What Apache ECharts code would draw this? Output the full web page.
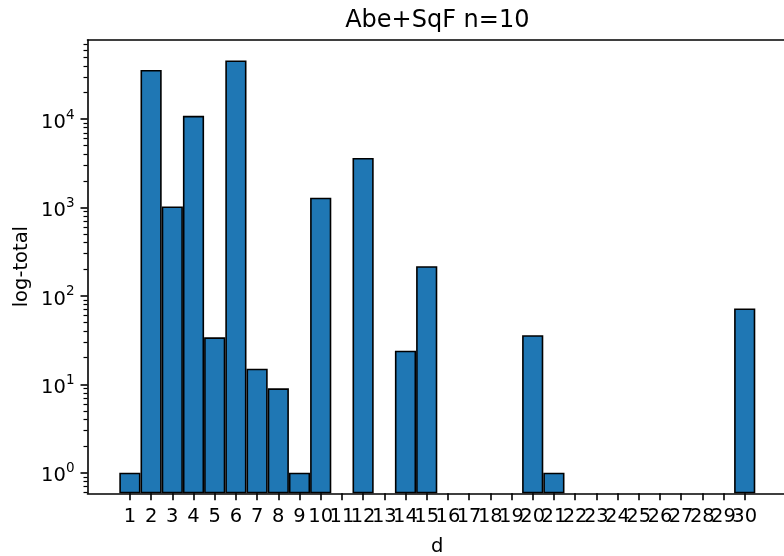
<!DOCTYPE html>
<html><head><meta charset="utf-8">
<script src="https://cdn.jsdelivr.net/npm/echarts@6/dist/echarts.min.js"></script>
<style>html,body{margin:0;padding:0;background:#fff}#c{width:784px;height:556px}</style>
</head><body><div id="c"></div>
<script>
const categories = [1,2,3,4,5,6,7,8,9,10,11,12,13,14,15,16,17,18,19,20,21,22,23,24,25,26,27,28,29,30];
const totals = [1, 36000, 1030, 10900, 34, 46000, 15, 9, 1, 1290, 0, 3630, 0, 24, 217, 0, 0, 0, 0, 36, 1, 0, 0, 0, 0, 0, 0, 0, 0, 72];
const yMajorTicks = [1, 10, 100, 1000, 10000];
const yMinorTicks = [0.6, 0.7, 0.8, 0.9,
  2, 3, 4, 5, 6, 7, 8, 9,
  20, 30, 40, 50, 60, 70, 80, 90,
  200, 300, 400, 500, 600, 700, 800, 900,
  2000, 3000, 4000, 5000, 6000, 7000, 8000, 9000,
  20000, 30000, 40000, 50000, 60000, 70000];
const xRange = [-1, 32];
const yRange = [0.585, 78500];

const FONT = 'DejaVu Sans';
const GRID = {left: 87.5, top: 40, width: 699.6, height: 453.3};
const unitPx = GRID.width / (xRange[1] - xRange[0]);
const chart = echarts.init(document.getElementById('c'), null, {renderer: 'canvas'});
const barData = categories.map((d, i) => [d, totals[i] > 0 ? totals[i] : null]);
// Labels are split over two overlaid axes so that ECharts does not drop
// overlapping neighbours of the first/last label.
const labelsA = categories.filter((d, i) => i % 2 === 0);
const labelsB = categories.filter((d, i) => i % 2 === 1);
const xLabelStyle = {margin: 14, showMinLabel: true, showMaxLabel: true, hideOverlap: false,
  fontFamily: FONT, fontSize: 19.5, color: '#000'};

chart.setOption({
  animation: false,
  backgroundColor: '#ffffff',
  title: {
    text: 'Abe+SqF n=10',
    left: 437.3, top: 9, padding: 0, textAlign: 'center',
    textStyle: {fontFamily: FONT, fontSize: 24, fontWeight: 'normal', color: '#000'}
  },
  grid: Object.assign({containLabel: false, outerBoundsMode: 'none'}, GRID),
  xAxis: [{
    type: 'value', min: xRange[0], max: xRange[1], position: 'bottom', offset: 0,
    name: 'd', nameLocation: 'middle', nameGap: 44, nameMoveOverlap: false,
    nameTextStyle: {fontFamily: FONT, fontSize: 19.5, color: '#000'},
    axisLine: {show: true, onZero: false, lineStyle: {color: '#000', width: 1.6}},
    axisTick: {show: true, length: 7, customValues: categories, lineStyle: {color: '#000', width: 1.6}},
    axisLabel: Object.assign({customValues: labelsA}, xLabelStyle),
    splitLine: {show: false}
  }, {
    type: 'value', min: xRange[0], max: xRange[1], position: 'top',
    axisLine: {show: true, onZero: false, lineStyle: {color: '#000', width: 1.6}},
    axisTick: {show: false}, axisLabel: {show: false}, splitLine: {show: false}
  }, {
    type: 'value', min: xRange[0], max: xRange[1], position: 'bottom', offset: 0,
    axisLine: {show: false, onZero: false},
    axisTick: {show: false},
    axisLabel: Object.assign({customValues: labelsB}, xLabelStyle),
    splitLine: {show: false}
  }],
  yAxis: [{
    type: 'log', logBase: 10, min: yRange[0], max: yRange[1], startValue: yRange[0], position: 'left',
    name: 'log-total', nameLocation: 'middle', nameGap: 56, nameMoveOverlap: false,
    nameTextStyle: {fontFamily: FONT, fontSize: 19.5, color: '#000'},
    axisLine: {show: true, onZero: false, lineStyle: {color: '#000', width: 1.6}},
    axisTick: {show: true, length: 7, customValues: yMajorTicks, lineStyle: {color: '#000', width: 1.6}},
    axisLabel: {
      customValues: yMajorTicks, margin: 13, showMinLabel: true, showMaxLabel: true,
      formatter: v => '{b|10}{s|' + Math.round(Math.log10(v)) + '}',
      rich: {
        b: {fontFamily: FONT, fontSize: 19.5, lineHeight: 20, padding: [7.4, 0, 0, 0], color: '#000'},
        s: {fontFamily: FONT, fontSize: 13.5, lineHeight: 22, verticalAlign: 'top', color: '#000'}
      }
    },
    splitLine: {show: false}, minorTick: {show: false}
  }, {
    type: 'log', logBase: 10, min: yRange[0], max: yRange[1], position: 'left', offset: 0,
    axisLine: {show: false, onZero: false},
    axisTick: {show: true, length: 4, customValues: yMinorTicks, lineStyle: {color: '#000', width: 1.2}},
    axisLabel: {show: false}, splitLine: {show: false}
  }],
  series: [{
    type: 'bar', xAxisIndex: 0, yAxisIndex: 0,
    data: barData, barWidth: unitPx, barGap: '0%',
    itemStyle: {color: '#1f77b4', borderColor: '#000', borderWidth: 1.6},
    emphasis: {disabled: true}
  }]
});
</script></body></html>
